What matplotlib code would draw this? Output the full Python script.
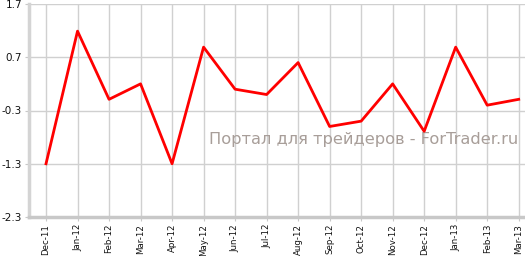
import matplotlib
matplotlib.use("Agg")
import matplotlib.pyplot as plt

months = ["Dec-11", "Jan-12", "Feb-12", "Mar-12", "Apr-12", "May-12", "Jun-12", "Jul-12",
          "Aug-12", "Sep-12", "Oct-12", "Nov-12", "Dec-12", "Jan-13", "Feb-13", "Mar-13"]
values = [-1.3, 1.19, -0.09, 0.20, -1.3, 0.89, 0.10, 0.0,
          0.60, -0.60, -0.50, 0.20, -0.69, 0.89, -0.20, -0.09]
yticks = [1.7, 0.7, -0.3, -1.3, -2.3]

fig = plt.figure(figsize=(5.25, 2.56), dpi=100)
ax = fig.add_axes([29/525, 39/256, 496/525, 213/256])
x = list(range(len(months)))
ax.plot(x, values, color="#ff0000", lw=2, zorder=3)
ax.set_xlim(-0.54, 15.2)
ax.set_ylim(-2.3, 1.7)
ax.set_yticks(yticks)
ax.set_yticklabels([f"{v:.1f}" for v in yticks], fontsize=7.5, color="#111111")
ax.set_xticks(x)
ax.set_xticklabels(months, rotation=90, fontsize=6.2, color="#111111")
ax.grid(True, color="#d0d0d0", lw=1)
for s in ["top", "right"]:
    ax.spines[s].set_visible(False)
ax.spines["left"].set_color("#d4d4d4")
ax.spines["left"].set_linewidth(2.5)
ax.spines["bottom"].set_color("#c8c8c8")
ax.spines["bottom"].set_linewidth(2.5)
ax.tick_params(axis="y", length=3, color="#c8c8c8", pad=2)
ax.tick_params(axis="x", length=3, color="#c8c8c8", pad=2)
ax.text(0.986, 0.366, "Портал для трейдеров - ForTrader.ru", transform=ax.transAxes,
        ha="right", va="center", fontsize=11.7, color="#a89e99", zorder=2)
fig.savefig("out.png", dpi=100)
